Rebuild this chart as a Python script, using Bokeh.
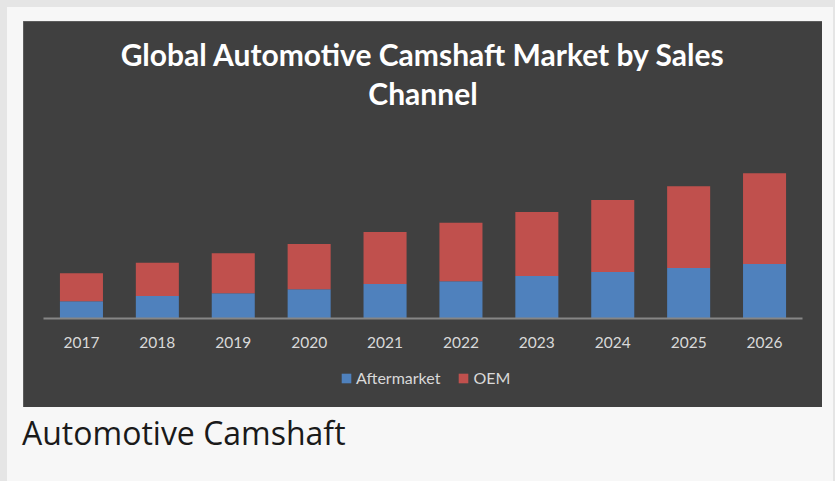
from bokeh.plotting import figure
from bokeh.models import Label, Legend, LegendItem, FactorRange, Range1d, ColumnDataSource, Div, Spacer
from bokeh.layouts import column, row
from bokeh.embed import file_html
from bokeh.resources import INLINE

years = ["2017", "2018", "2019", "2020", "2021", "2022", "2023", "2024", "2025", "2026"]
aftermarket = [1.72, 2.25, 2.52, 2.92, 3.45, 3.72, 4.25, 4.65, 5.05, 5.45]
oem = [2.80, 3.33, 4.00, 4.53, 5.20, 5.86, 6.40, 7.20, 8.17, 9.07]
series = ["Aftermarket", "OEM"]
colors = ["#4f81bd", "#c0504d"]
title_lines = ["Global Automotive Camshaft Market by Sales", "Channel"]
caption = "Automotive Camshaft"

source = ColumnDataSource(data=dict(year=years, Aftermarket=aftermarket, OEM=oem))

DARK = "#404040"
LIGHT = "#f7f7f7"
GRAY = "#e5e5e5"

p = figure(
    x_range=FactorRange(factors=years, range_padding=0.0527, range_padding_units="percent"),
    y_range=Range1d(-8.9, 29.7),
    width=799, height=386,
    title=None,
    output_backend="svg", toolbar_location=None,
    y_axis_location=None,
    min_border_left=0, min_border_right=0,
    min_border_top=0, min_border_bottom=0,
    background_fill_color=DARK, border_fill_color=DARK,
    styles={"outline": "1px solid #7a7a7a", "outline-offset": "-1px"},
)
p.outline_line_color = None

renderers = p.vbar_stack(series, x="year", width=0.567, source=source,
                         color=colors, line_color=None)

p.xgrid.grid_line_color = None
p.ygrid.grid_line_color = None
ax = p.xaxis[0]
ax.fixed_location = 0
ax.bounds = (0, len(years))
ax.axis_line_color = "#868686"
ax.axis_line_width = 2
ax.major_tick_line_color = None
ax.minor_tick_line_color = None
ax.major_label_text_color = "#d9d9d9"
ax.major_label_text_font = "Lato"
ax.major_label_text_font_size = "15.5px"
ax.major_label_standoff = 12

for text, y in zip(title_lines, [354, 315]):
    p.add_layout(Label(x=399.5, y=y, x_units="screen", y_units="screen", text=text,
                       text_align="center", text_baseline="alphabetic",
                       text_color="#ffffff", text_font="Lato",
                       text_font_size="30px", text_font_style="bold"))

legend = Legend(
    items=[LegendItem(label=s, renderers=[r]) for s, r in zip(series, renderers)],
    orientation="horizontal", location=(317, 20),
    background_fill_alpha=0, border_line_color=None,
    label_text_color="#d9d9d9", label_text_font="Lato", label_text_font_size="16px",
    glyph_width=12, glyph_height=12, label_height=12, label_standoff=4,
    spacing=17, margin=0, padding=0,
)
p.add_layout(legend, "center")

div = Div(
    text=('<div style="font-family:\'Open Sans\';font-size:32px;line-height:32px;'
          'color:#1a1a1a;padding:10px 0 0 15px;white-space:nowrap;">' + caption + '</div>'),
    width=826, height=74, margin=0,
)

inner = column(
    Spacer(width=826, height=14),
    row(Spacer(width=16, height=386), p),
    div,
    styles={"background-color": LIGHT},
)

root = column(
    Spacer(width=835, height=7, styles={"background-color": GRAY}),
    row(
        Spacer(width=7, height=474, styles={"background-color": GRAY}),
        inner,
        Spacer(width=2, height=474, styles={"background-color": GRAY}),
    ),
)

open("out.html", "w").write(file_html(root, INLINE))
